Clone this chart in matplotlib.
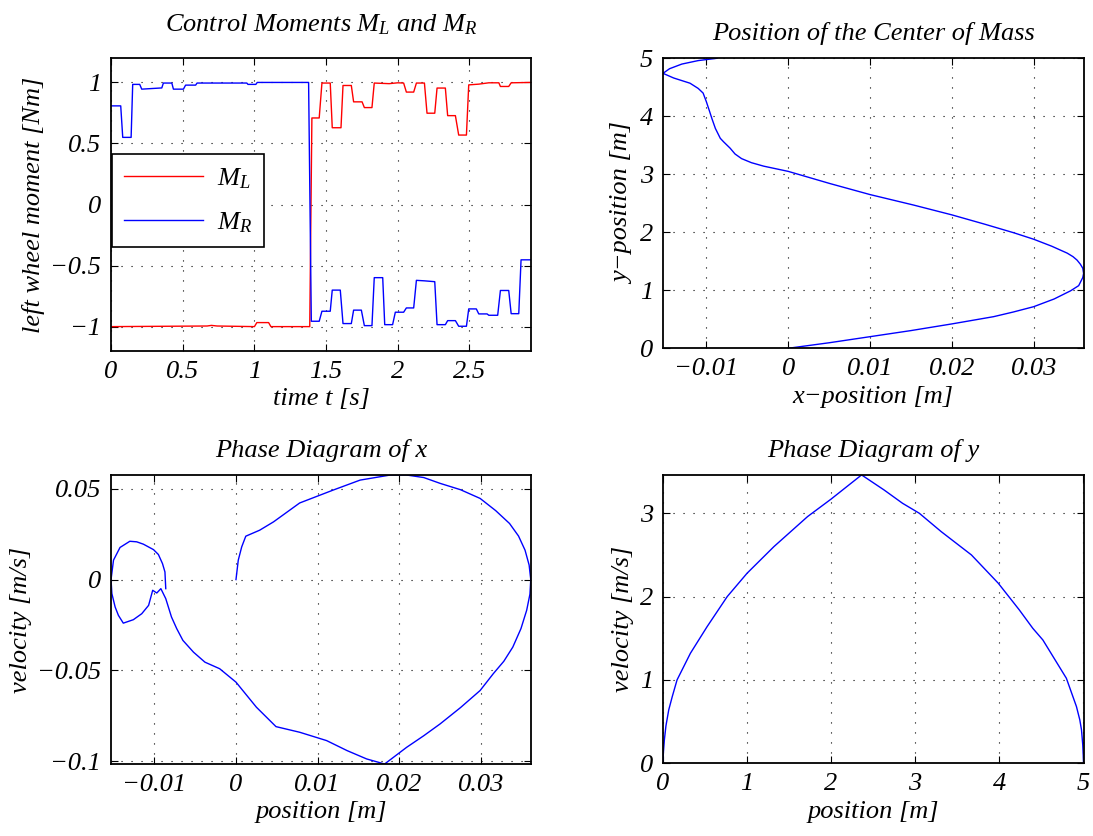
import matplotlib
matplotlib.use("Agg")
import matplotlib.pyplot as plt
from matplotlib.ticker import FuncFormatter

# Estilo tipo MATLAB: Times cursiva
plt.rcParams['font.family'] = 'Liberation Serif'
plt.rcParams['font.style'] = 'italic'
plt.rcParams['font.size'] = 19
plt.rcParams['mathtext.fontset'] = 'custom'
plt.rcParams['mathtext.it'] = 'Liberation Serif:italic'
plt.rcParams['mathtext.rm'] = 'Liberation Serif:italic'
plt.rcParams['axes.linewidth'] = 1.3

# Momentos de control (puntos de quiebre de la señal escalonada)
t_ml = [0.0, 0.67, 0.70, 0.74, 1.00, 1.017, 1.099, 1.115, 1.386, 1.401, 1.452, 1.471, 1.529,
        1.543, 1.604, 1.618, 1.676, 1.692, 1.751, 1.767, 1.820, 1.836, 1.94, 2.00, 2.041,
        2.060, 2.111, 2.130, 2.186, 2.204, 2.258, 2.274, 2.332, 2.348, 2.402, 2.425, 2.479,
        2.495, 2.565, 2.635, 2.705, 2.716, 2.774, 2.791, 2.93]
ml = [-1.0, -0.995, -0.99, -0.995, -1.0, -0.967, -0.967, -1.0, -1.0, 0.709, 0.709, 0.995, 0.995,
      0.629, 0.629, 0.975, 0.975, 0.841, 0.841, 0.794, 0.794, 0.995, 0.99, 0.997, 0.995,
      0.921, 0.921, 0.995, 0.995, 0.748, 0.748, 0.954, 0.954, 0.728, 0.728, 0.569, 0.569,
      0.980, 0.986, 0.997, 0.997, 0.967, 0.967, 0.997, 1.0]

t_mr = [0.0, 0.0675, 0.0815, 0.140, 0.151, 0.20, 0.214, 0.354, 0.365, 0.424, 0.435, 0.505,
        0.52, 0.59, 0.60, 0.947, 0.955, 1.01, 1.02, 1.378, 1.397, 1.452, 1.471, 1.529,
        1.543, 1.599, 1.618, 1.676, 1.692, 1.746, 1.767, 1.820, 1.836, 1.895, 1.909, 1.964,
        1.983, 2.041, 2.060, 2.111, 2.130, 2.186, 2.258, 2.274, 2.332, 2.348, 2.402, 2.425,
        2.479, 2.495, 2.548, 2.565, 2.623, 2.635, 2.697, 2.716, 2.774, 2.791, 2.844, 2.860, 2.93]
mr = [0.808, 0.808, 0.55, 0.55, 0.984, 0.984, 0.945, 0.955, 0.995, 0.995, 0.945, 0.945,
      0.978, 0.978, 0.995, 0.995, 0.984, 0.984, 1.0, 1.0, -0.956, -0.956, -0.874, -0.874,
      -0.701, -0.701, -0.975, -0.975, -0.865, -0.865, -0.992, -0.992, -0.599, -0.599, -0.984, -0.984,
      -0.882, -0.882, -0.847, -0.847, -0.621, -0.625, -0.632, -0.984, -0.984, -0.951, -0.951, -0.997,
      -0.997, -0.855, -0.855, -0.896, -0.896, -0.907, -0.907, -0.704, -0.704, -0.894, -0.894, -0.453, -0.453]

# Posición del centro de masa
x_com = [0.0, 0.005, 0.010, 0.015, 0.020, 0.0251, 0.0275, 0.030, 0.0325, 0.0345, 0.0355,
         0.0360, 0.0361, 0.0360, 0.0357, 0.0353, 0.0348, 0.0341, 0.0322, 0.030, 0.0276,
         0.024, 0.020, 0.0153, 0.010, 0.0051, 0.0, -0.003, -0.0045, -0.0057, -0.0065,
         -0.0071, -0.0079, -0.0083, -0.0089, -0.0093, -0.0096, -0.0100, -0.0104, -0.0110,
         -0.0120, -0.0140, -0.0153, -0.0145, -0.0130, -0.0110, -0.0087]
y_com = [0.0, 0.095, 0.20, 0.305, 0.42, 0.545, 0.625, 0.717, 0.85, 0.99, 1.08,
         1.22, 1.29, 1.38, 1.45, 1.52, 1.58, 1.64, 1.76, 1.88, 1.99,
         2.14, 2.30, 2.47, 2.65, 2.84, 3.05, 3.14, 3.20, 3.27, 3.35,
         3.45, 3.56, 3.62, 3.79, 3.95, 4.08, 4.25, 4.40, 4.48,
         4.57, 4.66, 4.74, 4.82, 4.90, 4.96, 5.0]

# Diagrama de fase en x
x_phase = [0.0, 0.00028, 0.0007, 0.0012, 0.0029, 0.0046, 0.0078, 0.0119, 0.0152, 0.0189,
           0.0209, 0.023, 0.025, 0.0275, 0.0299, 0.0318, 0.0335, 0.0346, 0.0354, 0.0359,
           0.0361, 0.0360, 0.0356, 0.0349, 0.0339, 0.0328, 0.0315, 0.0299, 0.0275, 0.025,
           0.023, 0.0209, 0.0182, 0.016, 0.0136, 0.0111, 0.0078, 0.0049, 0.0025, 0.0,
           -0.002, -0.0038, -0.0052, -0.0065, -0.00726, -0.0079, -0.0086, -0.0092, -0.0097,
           -0.0102, -0.0107, -0.01154, -0.01257, -0.0138, -0.0144, -0.0148, -0.0152, -0.0153,
           -0.0150, -0.0142, -0.0130, -0.01216, -0.01134, -0.0101, -0.0095, -0.0090, -0.0087,
           -0.0086]
v_xphase = [0.0, 0.0107, 0.018, 0.0239, 0.0272, 0.0318, 0.0422, 0.0493, 0.0548, 0.0576,
            0.0576, 0.0562, 0.053, 0.0495, 0.0447, 0.038, 0.0309, 0.024, 0.0162, 0.008,
            0.0, -0.008, -0.0169, -0.027, -0.0372, -0.045, -0.0519, -0.0611, -0.0705, -0.0795,
            -0.086, -0.0924, -0.1016, -0.0988, -0.0942, -0.0887, -0.0841, -0.081, -0.0703, -0.0565,
            -0.0491, -0.0455, -0.040, -0.0335, -0.027, -0.0206, -0.0105, -0.005, -0.0074,
            -0.0059, -0.0142, -0.0188, -0.0221, -0.024, -0.0197, -0.0151, -0.0077, 0.0,
            0.0107, 0.0177, 0.0211, 0.0208, 0.0195, 0.0165, 0.0138, 0.0088, 0.0042,
            -0.005]

# Diagrama de fase en y
y_phase = [0.0, 0.004, 0.016, 0.035, 0.068, 0.11, 0.167, 0.326, 0.525, 0.764, 1.0, 1.32,
           1.72, 2.0, 2.363, 2.63, 2.85, 3.05, 3.31, 3.67, 3.99, 4.24, 4.40, 4.52, 4.80,
           4.86, 4.92, 4.96, 4.98, 4.995, 5.005]
v_yphase = [0.0, 0.12, 0.28, 0.45, 0.64, 0.80, 1.0, 1.32, 1.64, 2.0, 2.28, 2.6,
            2.96, 3.17, 3.46, 3.28, 3.12, 3.0, 2.78, 2.5, 2.16, 1.84, 1.62, 1.48, 1.02,
            0.85, 0.68, 0.52, 0.4, 0.22, 0.0]


def fmt(v, pos):
    if abs(v) < 1e-12:
        return '0'
    return f'{v:g}'.replace('-', '\u2212')


def style_axes(ax):
    ax.grid(True, color='black', linestyle=(0, (1, 8)), linewidth=0.8)
    ax.tick_params(direction='in', top=True, right=True, length=5, width=0.8, pad=7)
    ax.xaxis.set_major_formatter(FuncFormatter(fmt))
    ax.yaxis.set_major_formatter(FuncFormatter(fmt))


fig = plt.figure(figsize=(10.93, 8.36), dpi=100)
ax1 = fig.add_axes([0.1016, 0.5801, 0.3843, 0.3505])
ax2 = fig.add_axes([0.6066, 0.5834, 0.3848, 0.3469])
ax3 = fig.add_axes([0.1016, 0.0861, 0.3840, 0.3457])
ax4 = fig.add_axes([0.6066, 0.0870, 0.3848, 0.3449])

title_size = 19

# Momentos de control
ax1.plot(t_ml, ml, color='red', linewidth=1.0, label='$M_L$')
ax1.plot(t_mr, mr, color='blue', linewidth=1.0, label='$M_R$')
ax1.set_xlim(0, t_ml[-1])
ax1.set_ylim(-1.2, 1.2)
ax1.set_xticks([0, 0.5, 1, 1.5, 2, 2.5])
ax1.set_yticks([-1, -0.5, 0, 0.5, 1])
style_axes(ax1)
ax1.set_title('Control Moments $M_L$ and $M_R$', fontsize=title_size, pad=19)
ax1.set_xlabel('time t [s]')
ax1.set_ylabel('left wheel moment [Nm]')
leg = ax1.legend(loc='upper left', bbox_to_anchor=(0.003, 0.671), borderaxespad=0,
                 fancybox=False, edgecolor='black', framealpha=1, handlelength=3.0,
                 handletextpad=0.5, borderpad=0.45, labelspacing=0.75)
leg.get_frame().set_linewidth(1.2)

# Posición del centro de masa
ax2.plot(x_com, y_com, color='blue', linewidth=1.0)
ax2.set_xlim(min(x_com), max(x_com))
ax2.set_ylim(0, 5)
ax2.set_xticks([-0.01, 0, 0.01, 0.02, 0.03])
ax2.set_yticks([0, 1, 2, 3, 4, 5])
style_axes(ax2)
ax2.set_title('Position of the Center of Mass', fontsize=title_size, pad=13)
ax2.set_xlabel('x\u2212position [m]')
ax2.set_ylabel('y\u2212position [m]')

# Diagrama de fase de x
ax3.plot(x_phase, v_xphase, color='blue', linewidth=1.0)
ax3.set_xlim(min(x_phase), max(x_phase))
ax3.set_ylim(min(v_xphase), max(v_xphase))
ax3.set_xticks([-0.01, 0, 0.01, 0.02, 0.03])
ax3.set_yticks([-0.1, -0.05, 0, 0.05])
style_axes(ax3)
ax3.set_title('Phase Diagram of x', fontsize=title_size, pad=13)
ax3.set_xlabel('position [m]')
ax3.set_ylabel('velocity [m/s]')

# Diagrama de fase de y
ax4.plot(y_phase, v_yphase, color='blue', linewidth=1.0)
ax4.set_xlim(min(y_phase), max(y_phase))
ax4.set_ylim(min(v_yphase), max(v_yphase))
ax4.set_xticks([0, 1, 2, 3, 4, 5])
ax4.set_yticks([0, 1, 2, 3])
style_axes(ax4)
ax4.set_title('Phase Diagram of y', fontsize=title_size, pad=13)
ax4.set_xlabel('position [m]')
ax4.set_ylabel('velocity [m/s]')

fig.savefig('out.png', dpi=100)
